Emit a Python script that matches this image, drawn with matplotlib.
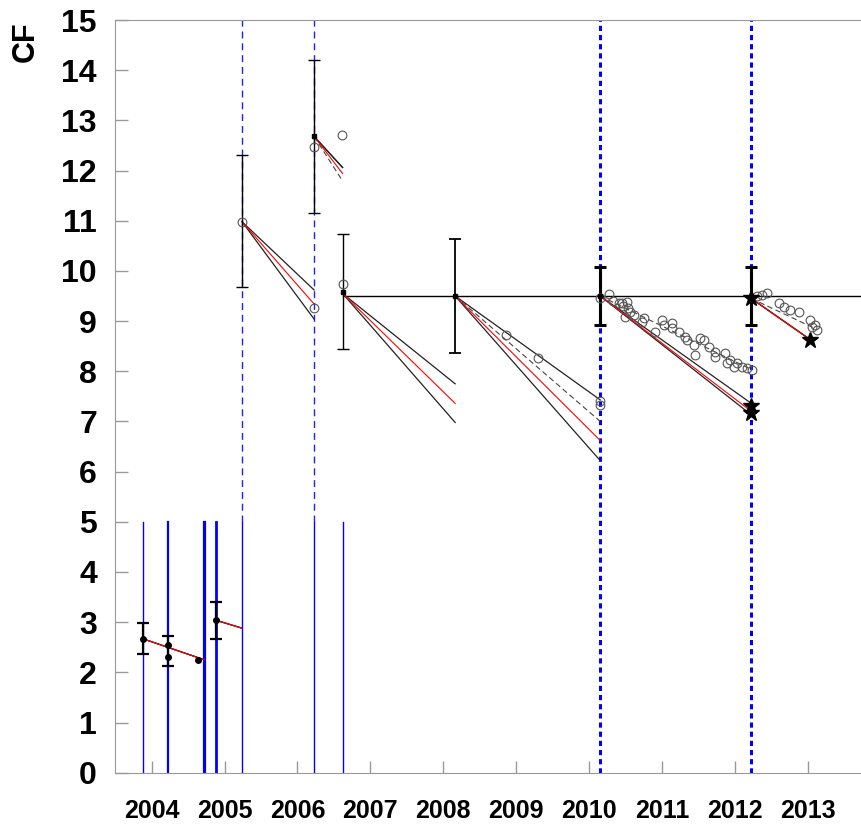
import numpy as np
import matplotlib
matplotlib.use("Agg")
import matplotlib.pyplot as plt

plt.rcParams['font.family'] = ['Liberation Sans', 'DejaVu Sans']

## Data (x in decimal years)
years = [2004, 2005, 2006, 2007, 2008, 2009, 2010, 2011, 2012, 2013]

# error bars
eb_x = [2003.878, 2004.221, 2004.879, 2005.240, 2006.228, 2006.619, 2008.162, 2010.151, 2012.223]
eb_lo = [2.36, 2.13, 2.67, 9.67, 11.16, 8.44, 8.37, 8.93, 8.93]
eb_hi = [2.99, 2.73, 3.41, 12.30, 14.21, 10.74, 10.64, 10.07, 10.07]
eb_w = [1.6, 1.6, 1.6, 1.0, 1.0, 1.0, 1.3, 2.2, 2.2]   # line widths

# filled dots (bottom group)
dot_x = [2003.878, 2004.221, 2004.221, 2004.632, 2004.879]
dot_y = [2.67, 2.54, 2.30, 2.25, 3.04]

# small black markers at the start of upper trends
start_x = [2006.228, 2006.619, 2008.162, 2010.151]
start_y = [12.68, 9.58, 9.50, 9.50]

# trend segments: start, end, and end values of upper / red / lower lines
seg_x0 = [2003.878, 2004.879, 2005.240, 2006.228, 2006.619, 2008.162, 2010.151, 2012.223]
seg_y0 = [2.67, 3.04, 10.98, 12.68, 9.55, 9.50, 9.50, 9.45]
seg_x1 = [2004.723, 2005.240, 2006.228, 2006.619, 2008.162, 2010.151, 2012.223, 2013.032]
seg_hi = [2.25, 2.88, 9.62, 12.06, 7.75, 7.43, 7.36, 8.63]
seg_mid = [2.25, 2.88, 9.34, 11.94, 7.36, 6.62, 7.20, 8.63]
seg_lo = [2.25, 2.88, 9.04, 12.06, 6.98, 6.22, 7.13, 8.63]

# dashed fits
fit_x0 = [2006.228, 2008.162, 2010.151, 2012.223]
fit_y0 = [12.68, 9.50, 9.50, 9.45]
fit_x1 = [2006.619, 2010.151, 2012.230, 2013.100]
fit_y1 = [11.79, 7.00, 8.03, 8.85]

# open circles
circ_x = [2005.240, 2006.228, 2006.228, 2006.608, 2006.619, 2008.857, 2009.296, 2010.151, 2010.151,
          2010.151, 2010.265, 2010.333, 2010.402, 2010.449, 2010.470, 2010.517, 2010.539, 2010.562,
          2010.494, 2010.608, 2010.745, 2010.723, 2010.905, 2010.997, 2011.019, 2011.134, 2011.134,
          2011.225, 2011.317, 2011.340, 2011.431, 2011.454, 2011.522, 2011.568, 2011.637, 2011.728,
          2011.728, 2011.865, 2011.888, 2011.933, 2011.979, 2012.026, 2012.095, 2012.163, 2012.230,
          2012.300, 2012.369, 2012.437, 2012.597, 2012.665, 2012.757, 2012.871, 2013.031, 2013.055,
          2013.100, 2013.123]
circ_y = [10.98, 9.26, 12.46, 12.71, 9.74, 8.72, 8.26, 7.40, 7.32,
          9.46, 9.54, 9.41, 9.37, 9.36, 9.30, 9.39, 9.26, 9.19,
          9.09, 9.12, 9.06, 8.99, 8.79, 9.02, 8.92, 8.96, 8.86,
          8.79, 8.69, 8.63, 8.53, 8.33, 8.66, 8.63, 8.49, 8.39,
          8.28, 8.36, 8.16, 8.23, 8.09, 8.16, 8.09, 8.06, 8.03,
          9.49, 9.52, 9.56, 9.36, 9.29, 9.22, 9.19, 9.02, 8.89,
          8.92, 8.82]

# stars
star_x = [2012.223, 2012.223, 2012.223, 2013.032]
star_y = [7.30, 7.16, 9.45, 8.63]

# vertical blue lines
vsolid_x = [2003.878, 2004.221, 2004.715, 2004.879, 2005.240, 2006.228, 2006.619]
vsolid_w = [1.0, 1.6, 2.3, 2.0, 1.0, 1.0, 1.0]
vdash_x = [2005.240, 2006.228]
vdot_x = [2010.151, 2012.223]

hline_y = 9.5
hline_x0 = 2006.619

xmin, xmax = 2003.498, 2013.727

fig = plt.figure(figsize=(8.61, 8.26), dpi=100)
ax = fig.add_axes([115/861, 1-772.7/826, 1-115/861, (772.7-20)/826])

# blue verticals
for x, w in zip(vsolid_x, vsolid_w):
    ax.plot([x, x], [0, 5], color='#0000ff', lw=w, zorder=1)
for x in vdash_x:
    ax.plot([x, x], [5, 15], color='#2020ff', lw=1.0, ls=(0, (5, 3.5)), zorder=1)
for x in vdot_x:
    ax.plot([x, x], [0, 15], color='#0000ff', lw=2.2, ls=(0, (1.7, 1.3)), zorder=1)

# horizontal reference
ax.plot([hline_x0, xmax], [hline_y, hline_y], color='black', lw=1.0, zorder=2)

# trend lines
for x0, y0, x1, hi, mid, lo in zip(seg_x0, seg_y0, seg_x1, seg_hi, seg_mid, seg_lo):
    ax.plot([x0, x1], [y0, hi], color='#222222', lw=0.9, zorder=3)
    ax.plot([x0, x1], [y0, lo], color='#222222', lw=0.9, zorder=3)
    ax.plot([x0, x1], [y0, mid], color='red', lw=0.8, zorder=4)
for x0, y0, x1, y1 in zip(fit_x0, fit_y0, fit_x1, fit_y1):
    ax.plot([x0, x1], [y0, y1], color='#444444', lw=0.8, ls=(0, (5, 3)), zorder=3)

# error bars
for x, lo, hi, w in zip(eb_x, eb_lo, eb_hi, eb_w):
    ax.errorbar([x], [(lo+hi)/2], yerr=[[(hi-lo)/2], [(hi-lo)/2]], fmt='none',
                ecolor='black', elinewidth=w, capsize=4, capthick=w, zorder=5)

ax.plot(circ_x, circ_y, 'o', mfc='none', mec='#555555', ms=6.3, mew=0.8, zorder=6)
ax.plot(dot_x, dot_y, 'o', color='black', ms=4, zorder=6)
ax.plot(start_x, start_y, 's', color='black', ms=2.5, zorder=6)
ax.plot(star_x, star_y, '*', color='black', ms=12, zorder=7)

ax.set_xlim(xmin, xmax)
ax.set_ylim(0, 15)
ax.set_yticks(range(0, 16))
ax.set_xticks(years)
ax.set_xticklabels([str(y) for y in years])
ax.tick_params(direction='in', length=9, width=1, color='#999999')
ax.tick_params(axis='y', labelsize=23, pad=13)
ax.tick_params(axis='x', labelsize=18, pad=19)
for lab in ax.get_xticklabels() + ax.get_yticklabels():
    lab.set_fontweight('bold')
for s in ['left', 'bottom', 'top']:
    ax.spines[s].set_color('#999999')
ax.spines['right'].set_visible(False)

fig.text(26/861, 1-42/826, 'CF', rotation=90, fontsize=22, fontweight='bold',
         ha='center', va='center')

plt.savefig('out.png', dpi=100)
